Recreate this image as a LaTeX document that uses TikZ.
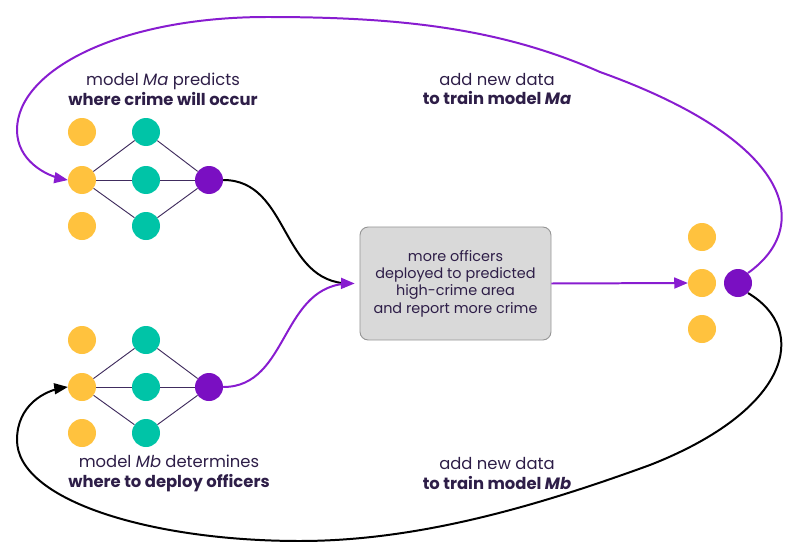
\documentclass[tikz,border=0pt]{standalone}
\usepackage{fontspec}
\setmainfont{Poppins}
\usetikzlibrary{arrows}

\begin{document}
\begin{tikzpicture}[x=0.03cm,y=-0.03cm]
\useasboundingbox (0,0) rectangle (800,559);
\definecolor{inColor}{RGB}{255,194,62}
\definecolor{hidColor}{RGB}{0,196,167}
\definecolor{outColor}{RGB}{122,15,194}
\definecolor{loopColor}{RGB}{136,28,208}
\definecolor{txtColor}{RGB}{46,30,72}
\definecolor{edgeColor}{RGB}{64,44,94}
\definecolor{boxFill}{RGB}{217,217,217}
\definecolor{boxBorder}{RGB}{150,150,150}
\tikzset{
  dot/.style={circle, inner sep=0pt, minimum size=0.84cm},
  inDot/.style={dot, fill=inColor},
  hidDot/.style={dot, fill=hidColor},
  outDot/.style={dot, fill=outColor},
  netEdge/.style={color=edgeColor, line width=0.8pt},
  loopLine/.style={line width=1.7pt},
  lbl/.style={color=txtColor, align=center, font=\fontsize{14}{17}\selectfont}
}
% top model
\foreach \y/\n in {132/1,180/2,226/3} {
  \node[inDot] (ta\n) at (82,\y) {};
  \node[hidDot] (th\n) at (146,\y) {};
}
\node[outDot] (tout) at (209,180) {};
\foreach \n in {1,2,3}
  \draw[netEdge] (ta2) -- (th\n) -- (tout);
% bottom model
\foreach \y/\n in {340/1,387/2,433/3} {
  \node[inDot] (ba\n) at (82,\y) {};
  \node[hidDot] (bh\n) at (146,\y) {};
}
\node[outDot] (bout) at (209,387) {};
\foreach \n in {1,2,3}
  \draw[netEdge] (ba2) -- (bh\n) -- (bout);
% right side
\foreach \y/\n in {237/1,283/2,329/3}
  \node[inDot] (ra\n) at (702,\y) {};
\node[outDot] (rout) at (738,283) {};
% report box
\node[draw=boxBorder, fill=boxFill, rounded corners=7pt, line width=0.8pt,
  minimum width=5.73cm, minimum height=3.39cm, align=center, text=txtColor,
  font=\fontsize{12.3}{14.8}\selectfont] (report) at (455.5,283.5)
  {more officers\\deployed to predicted\\high-crime area\\and report more crime};
% labels
\node[lbl] (tlbl) at (163,89) {model \textit{Ma} predicts\\\textbf{where crime will occur}};
\node[lbl] (blbl) at (169,473.5) {model \textit{Mb} determines\\\textbf{where to deploy officers}};
\node[lbl] (tadd) at (497,89) {add new data\\\textbf{to train model \textit{Ma}}};
\node[lbl] (badd) at (497,473.5) {add new data\\\textbf{to train model \textit{Mb}}};
% connectors
\draw[loopLine, black] (tout.east) .. controls (290,180) and (280,283) .. ([xshift=-0.3cm]report.west);
\draw[loopLine, loopColor, ->, >=triangle 45, shorten >=0.15cm] (bout.east) .. controls (290,387) and (280,283) .. (report.west);
\draw[loopLine, loopColor, ->, >=triangle 45] (report.east) -- (ra2.west);
\draw[loopLine, loopColor, ->, >=triangle 45] (rout.north east) .. controls (815,225) and (790,140) .. (600,72)
  .. controls (500,28) and (400,17) .. (267,17) .. controls (120,17) and (17,70) .. (17,130)
  .. controls (17,160) and (45,176) .. (ta2.west);
\draw[loopLine, black, ->, >=triangle 45] (rout.south east) .. controls (810,330) and (790,410) .. (650,465)
  .. controls (540,505) and (420,541) .. (300,541) .. controls (150,541) and (17,500) .. (17,440)
  .. controls (17,405) and (45,390) .. (ba2.west);
\end{tikzpicture}
\end{document}
